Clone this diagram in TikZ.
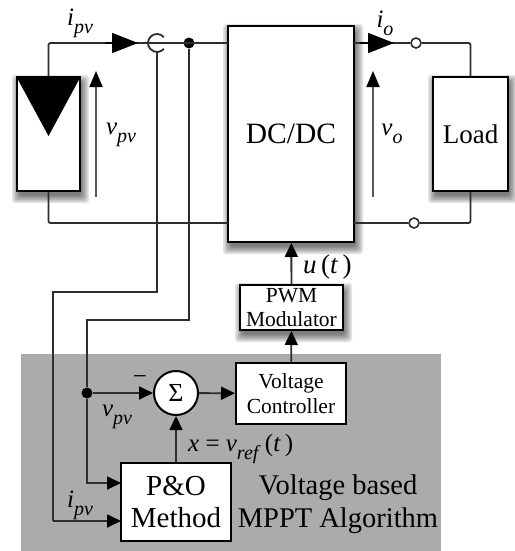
\documentclass[tikz,border=0pt]{standalone}
\usepackage{fontspec}
\setmainfont{Liberation Serif}
\usetikzlibrary{arrows.meta,calc}
\definecolor{wirec}{gray}{0.18}
\definecolor{panelc}{HTML}{ABABAB}
\tikzset{
  boxa/.style={draw=black,line width=2pt,fill=white,align=center,inner sep=0pt,text=black},
  wire/.style={draw=wirec,line width=1.8pt},
  flow/.style={wire,-{Triangle[length=14pt,width=13pt,color=black]}},
  bigtip/.style={draw=black,line width=1.8pt,-{Triangle[length=26pt,width=20pt,color=black]}},
  volt/.style={draw=wirec!80!white,line width=1.8pt,-{Triangle[length=16pt,width=13pt,color=black]}},
  dotn/.style={circle,fill=black,inner sep=0pt,minimum size=11pt},
  term/.style={circle,draw=wirec,line width=1.6pt,fill=white,inner sep=0pt,minimum size=10pt},
  lbl/.style={inner sep=0pt,text=black},
  mathl/.style={lbl,font=\fontsize{25}{25}\selectfont},
  softsh/.style={fill=black,fill opacity=.11,rounded corners=3pt}
}
\newcommand{\lblsub}[2]{\textit{#1}\raisebox{-.32em}{\fontsize{20}{20}\selectfont\textit{#2}}}
\newcommand{\softshadow}[4]{%
  \foreach \d in {7,5.5,4,2.5,1,-.5}{%
    \fill[softsh] ({#1+2-\d},{#2+5-\d}) rectangle ({#3+2+\d},{#4+5+\d});
  }}
\begin{document}
\begin{tikzpicture}[x=1pt,y=-1pt]
\useasboundingbox (0,0) rectangle (514,551);
\fill[panelc] (21,354) rectangle (441,551);
% soft shadows
\softshadow{17}{77}{80}{191}
\softshadow{228}{26}{354}{242}
\softshadow{433}{77}{508}{191}
\softshadow{240}{285}{343}{330}
% blocks
\node[boxa,minimum width=126pt,minimum height=216pt,font=\fontsize{29.5}{30}\selectfont] (dc) at (291,134) {DC/DC};
\node[boxa,minimum width=63pt,minimum height=114pt] (pv) at (48.5,134) {};
\fill[black] (pv.north west) -- (pv.north east) -- (48.5,136) -- cycle;
\node[boxa,minimum width=75pt,minimum height=114pt,font=\fontsize{27}{30}\selectfont] (load) at (470.5,134) {Load};
\node[boxa,minimum width=103pt,minimum height=45pt,font=\fontsize{21.5}{24}\selectfont] (pwm) at (291.5,307.5) {PWM\\Modulator};
\node[boxa,minimum width=110pt,minimum height=61pt,font=\fontsize{21.5}{25}\selectfont] (vc) at (291,393.5) {Voltage\\Controller};
\node[boxa,minimum width=110pt,minimum height=78pt,font=\fontsize{29}{32}\selectfont] (po) at (176,502) {P\&O\\Method};
\node[circle,boxa,minimum size=44pt,font=\fontsize{26}{26}\selectfont] (sum) at (176,393) {Σ};
% junctions and terminals
\node[dotn] (j1) at (189,43) {};
\node[dotn] (j2) at (87,393) {};
\node[term] (t1) at (416,43) {};
\node[term] (t2) at (414,223) {};
\coordinate (sens) at (157,43);
\coordinate (sb) at (157,52);
\coordinate (pvt) at (48.5,43);
\coordinate (pvb) at (48.5,223);
\coordinate (dct) at (228,43);
\coordinate (dcb) at (228,223);
\coordinate (lt) at (470.5,43);
\coordinate (lb) at (470.5,223);
\coordinate (r1a) at (157,292);
\coordinate (r1b) at (53,292);
\coordinate (r1c) at (53,521);
\coordinate (r2a) at (189,320);
\coordinate (r2b) at (87,320);
\coordinate (r2c) at (87,483);
\coordinate (po1) at (121,483);
\coordinate (po2) at (121,521);
% power wiring
\draw[wire,rounded corners=2pt] (pv.north) -- (pvt) -- (dct);
\draw[wire,rounded corners=2pt] (pv.south) -- (pvb) -- (dcb);
\draw[wire] (354,43) -- (t1);
\draw[wire,rounded corners=2pt] (t1) -- (lt) -- (load.north);
\draw[wire] (354,223) -- (t2);
\draw[wire,rounded corners=2pt] (t2) -- (lb) -- (load.south);
% current sensor
\fill[white] (sens) circle (7);
\draw[wire] (sens) ++(-40:9) arc (-40:-320:9);
\draw[wire] (148,43) -- (172,43);
% sense wires
\draw[wire] (sb) -- (r1a) -- (r1b) -- (r1c);
\draw[flow] (r1c) -- (po2);
\draw[wire] (j1) -- (r2a) -- (r2b) -- (j2);
\draw[flow] (j2) -- (r2c) -- (po1);
\draw[flow] (j2) -- (sum);
\draw[flow] (sum) -- (vc);
\draw[flow] (po.north -| sum) -- (sum);
\draw[flow] (vc) -- (pwm);
\draw[flow] (pwm) -- (dc);
% big current tips
\coordinate (a1s) at (105,43);
\coordinate (a1e) at (138,43);
\coordinate (a2s) at (360,43);
\coordinate (a2e) at (394,43);
\draw[bigtip] (a1s) -- (a1e);
\draw[bigtip] (a2s) -- (a2e);
% voltage arrows
\coordinate (v1s) at (96,197);
\coordinate (v1e) at (96,71);
\coordinate (v2s) at (373,197);
\coordinate (v2e) at (373,71);
\draw[volt] (v1s) -- (v1e);
\draw[volt] (v2s) -- (v2e);
% labels
\node[mathl] (l1) at (80,23) {\lblsub{i}{pv}};
\node[mathl] (l2) at (121,135) {\lblsub{v}{pv}};
\node[mathl] (l3) at (385,23) {\lblsub{i}{o}};
\node[mathl] (l4) at (392,134) {\lblsub{v}{o}};
\node[mathl,anchor=west,font=\fontsize{27}{27}\selectfont] (l5) at (303,267) {\textit{u}\,(\textit{t}\,)};
\node[mathl] (l6) at (117,417) {\lblsub{v}{pv}};
\node[mathl] (l7) at (80,505) {\lblsub{i}{pv}};
\node[mathl,anchor=west] (l8) at (188,449) {\textit{x} = \lblsub{v}{ref}\,(\textit{t}\,)};
\node[mathl] (l9) at (140,380) {−};
\node[lbl,font=\fontsize{28.5}{33}\selectfont,align=center] (l10) at (338,504) {Voltage based\\MPPT Algorithm};
\end{tikzpicture}
\end{document}
